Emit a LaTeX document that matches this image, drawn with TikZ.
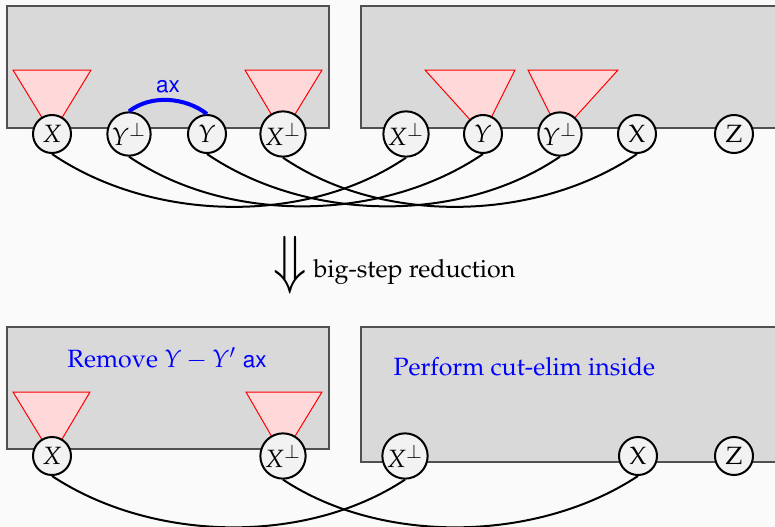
\documentclass[tikz,border=0pt]{standalone}
\usepackage[T1]{fontenc}
\usepackage{mathpazo}
\usepackage[scaled=0.9]{helvet}
\definecolor{bgc}{HTML}{FAFAFA}
\definecolor{boxfill}{HTML}{D9D9D9}
\definecolor{boxline}{HTML}{505050}
\definecolor{trifill}{HTML}{FFD9D9}
\definecolor{portfill}{HTML}{F2F2F2}
\begin{document}
\begin{tikzpicture}[x=0.4pt,y=-0.4pt,
  port/.style={circle,draw=black,line width=0.8pt,fill=portfill,minimum size=15.2pt,inner sep=0.3pt},
  box/.style={draw=boxline,fill=boxfill,line width=0.45pt},
  tri/.style={draw=red,fill=trifill,line width=0.4pt},
  conn/.style={line width=0.8pt},
  axis/.style={draw=blue,line width=1.6pt},
  lbl/.style={text=blue}]
\useasboundingbox (0,0) rectangle (775,527);
\fill[bgc] (0,0) rectangle (775,527);
% positions
\coordinate (pa1) at (52,134);
\coordinate (pa2) at (129,134);
\coordinate (pa3) at (207,134);
\coordinate (pa4) at (283,134);
\coordinate (pb1) at (406,134);
\coordinate (pb2) at (483,134);
\coordinate (pb3) at (560,134);
\coordinate (pb4) at (637,134);
\coordinate (pb5) at (734,134);
\coordinate (pc1) at (52,456);
\coordinate (pc2) at (283,456);
\coordinate (pd1) at (405,456);
\coordinate (pd2) at (638,456);
\coordinate (pd3) at (734,456);
% boxes
\draw[box] (7,6) rectangle (329,128);
\draw[box] (361,6) rectangle (790,128);
\draw[box] (7,327) rectangle (329,449);
\draw[box] (361,327) rectangle (790,462);
% triangles
\filldraw[tri] (13,70) -- (91,70) -- (pa1) -- cycle;
\filldraw[tri] (245,70) -- (322,70) -- (pa4) -- cycle;
\filldraw[tri] (425,70) -- (515,70) -- (pb2) -- cycle;
\filldraw[tri] (528,70) -- (618,70) -- (pb3) -- cycle;
\filldraw[tri] (13,392) -- (90,392) -- (pc1) -- cycle;
\filldraw[tri] (246,392) -- (322,392) -- (pc2) -- cycle;
% ports
\node[port] (a1) at (pa1) {$X$};
\node[port] (a2) at (pa2) {$Y^{\perp}$};
\node[port] (a3) at (pa3) {$Y$};
\node[port] (a4) at (pa4) {$X^{\perp}$};
\node[port] (b1) at (pb1) {$X^{\perp}$};
\node[port] (b2) at (pb2) {$Y$};
\node[port] (b3) at (pb3) {$Y^{\perp}$};
\node[port] (b4) at (pb4) {X};
\node[port] (b5) at (pb5) {Z};
\node[port] (c1) at (pc1) {$X$};
\node[port] (c2) at (pc2) {$X^{\perp}$};
\node[port] (d1) at (pd1) {$X^{\perp}$};
\node[port] (d2) at (pd2) {X};
\node[port] (d3) at (pd3) {Z};
% axiom link
\draw[axis] (a2.north) .. controls +(22,-17) and +(-22,-17) .. (a3.north);
\node[lbl,font=\sffamily] (axl) at (168,87) {ax};
% cut connectors
\draw[conn] (a1.south) .. controls +(100,68) and +(-100,68) .. (b1.south);
\draw[conn] (a2.south) .. controls +(100,68) and +(-100,68) .. (b2.south);
\draw[conn] (a3.south) .. controls +(100,68) and +(-100,68) .. (b3.south);
\draw[conn] (a4.south) .. controls +(100,68) and +(-100,68) .. (b4.south);
\draw[conn] (c1.south) .. controls +(100,66) and +(-100,66) .. (d1.south);
\draw[conn] (c2.south) .. controls +(100,66) and +(-100,66) .. (d2.south);
% reduction step
\node[inner sep=0pt] (arr) at (290,265) {\scalebox{2.1}[2.5]{$\Downarrow$}};
\node[anchor=base west,inner sep=0pt] (red) at (313,277) {big-step reduction};
% box texts
\node[lbl] (rem) at (167,359) {Remove $Y - Y'$ \textsf{ax}};
\node[lbl,anchor=west,inner sep=0pt] (perf) at (393,367) {Perform cut-elim inside};
\end{tikzpicture}
\end{document}
